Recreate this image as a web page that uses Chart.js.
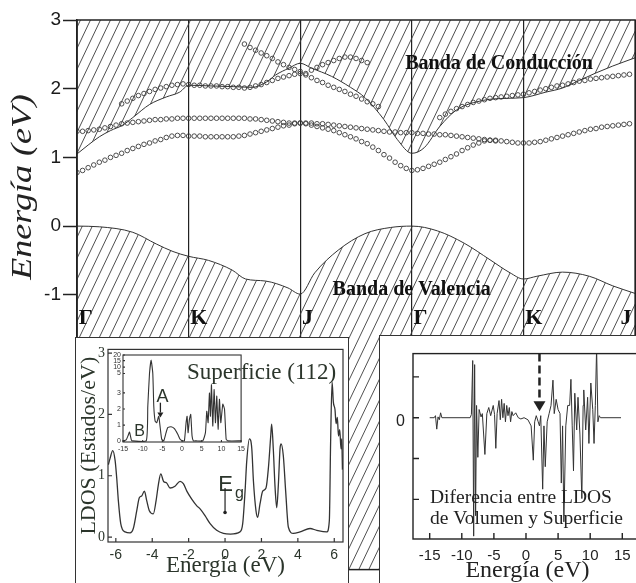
<!DOCTYPE html>
<html>
<head>
<meta charset="utf-8">
<script src="https://cdn.jsdelivr.net/npm/chart.js@4.4.1/dist/chart.umd.min.js"></script>
<style>
  html, body { margin: 0; padding: 0; background: #fff; overflow: hidden; }
  #fig { position: relative; width: 636px; height: 583px; overflow: hidden; }
  #fig canvas, #fig .box { position: absolute; }
  .box { background: #fff; border: 1.5px solid #333; box-sizing: border-box; }
</style>
</head>
<body>
<div id="fig">
  <canvas id="bands" width="640" height="583" style="left:0;top:0"></canvas>
  <div class="box" style="left:75px;top:337px;width:274px;height:260px"></div>
  <canvas id="ldos" width="272" height="245" style="left:76px;top:338px"></canvas>
  <canvas id="ldosFull" width="140" height="112" style="left:108px;top:345px"></canvas>
  <div class="box" style="left:379px;top:335px;width:270px;height:260px"></div>
  <canvas id="diff" width="262" height="247" style="left:380px;top:336px"></canvas>
</div>
<script>
// ============================================================
// Band structure along Γ-K-J-Γ-K-J + two LDOS insets
// ============================================================

// ---- Band diagram: k-path positions and labels ----
const symTicks = [0, 1, 2, 3, 4, 5];
const symLabels = ["Γ", "K", "J", "Γ", "K", "J"];
const symLabelShift = [0.015, 0.015, 0.015, 0.015, 0.015, -0.13]; // last J sits left of its (off-page) line
const mainYTicks = [-1, 0, 1, 2, 3];
const mainYLabels = ["-1", "0", "1", "2", "3"];

// Conduction band lower edge (eV)
const cbK = [0, 0.1, 0.2, 0.3, 0.41, 0.5, 0.65, 0.8, 0.92, 1.0, 1.2, 1.4, 1.57, 1.7, 1.78, 1.9, 2.0, 2.1, 2.28, 2.45, 2.58, 2.75, 2.87, 3.0, 3.11, 3.25, 3.4, 3.64, 3.85, 4.0, 4.2, 4.35, 4.5, 4.65, 4.8, 5.0];
const cbE = [1.05, 1.18, 1.3, 1.39, 1.47, 1.58, 1.77, 1.88, 1.95, 2.05, 2.04, 2.03, 2.02, 2.1, 2.2, 2.3, 2.37, 2.3, 2.18, 2.02, 1.87, 1.55, 1.26, 1.06, 1.14, 1.45, 1.69, 1.83, 1.86, 1.87, 1.95, 2.01, 2.12, 2.23, 2.33, 2.45];

// Valence band upper edge (eV)
const vbK = [0, 0.2, 0.5, 0.71, 0.86, 1.0, 1.18, 1.39, 1.51, 1.69, 1.89, 2.0, 2.13, 2.34, 2.58, 2.81, 3.0, 3.23, 3.47, 3.7, 3.88, 4.0, 4.12, 4.35, 4.59, 4.8, 5.0];
const vbE = [0, -0.01, -0.09, -0.26, -0.37, -0.44, -0.5, -0.64, -0.77, -0.8, -0.9, -0.99, -0.68, -0.35, -0.11, -0.02, 0, -0.07, -0.25, -0.49, -0.68, -0.77, -0.73, -0.67, -0.73, -0.87, -0.98];

// Surface states (open circles), sampled every K_STEP along the path
const K_STEP = 0.05;
const ssLowStart = 0;
const ssLow = [
  0.78, 0.81, 0.85, 0.89, 0.93, 0.96, 1.00, 1.03, 1.06, 1.10, 1.13, 1.16, 1.19, 1.21, 1.24, 1.26, 1.29, 1.31, 1.32, 1.32,
  1.31, 1.31, 1.31, 1.30, 1.30, 1.30, 1.30, 1.30, 1.30, 1.31, 1.32, 1.34, 1.36, 1.38, 1.40, 1.42, 1.44, 1.46, 1.47, 1.49,
  1.50, 1.49, 1.47, 1.45, 1.43, 1.41, 1.39, 1.36, 1.33, 1.30, 1.27, 1.23, 1.20, 1.15, 1.10, 1.04, 0.99, 0.93, 0.88, 0.84,
  0.81, 0.82, 0.84, 0.87, 0.90, 0.93, 0.97, 1.01, 1.05, 1.10, 1.14, 1.18, 1.21, 1.24, 1.25, 1.25, 1.24, 1.23, 1.22, 1.21,
  1.21, 1.21, 1.22, 1.23, 1.25, 1.27, 1.29, 1.31, 1.33, 1.35, 1.37, 1.39, 1.41, 1.42, 1.44, 1.45, 1.46, 1.47, 1.48, 1.49,
];
const ssMidStart = 0;
const ssMid = [
  1.38, 1.38, 1.39, 1.40, 1.41, 1.43, 1.45, 1.47, 1.49, 1.50, 1.51, 1.52, 1.53, 1.54, 1.55, 1.55, 1.56, 1.56, 1.57, 1.57,
  1.57, 1.57, 1.57, 1.57, 1.57, 1.57, 1.57, 1.57, 1.57, 1.57, 1.57, 1.56, 1.56, 1.55, 1.54, 1.53, 1.52, 1.51, 1.50, 1.50,
  1.50, 1.50, 1.50, 1.49, 1.49, 1.48, 1.47, 1.46, 1.45, 1.44, 1.43, 1.42, 1.41, 1.40, 1.39, 1.38, 1.37, 1.37, 1.36, 1.36,
  1.36, 1.35, 1.35, 1.34, 1.34, 1.33, 1.33, 1.32, 1.31, 1.30, 1.29, 1.28, 1.27, 1.26, 1.25, 1.24,
];
const ssHighStart = 0.4;
const ssHigh = [
  1.78, 1.82, 1.86, 1.90, 1.93, 1.96, 1.99, 2.01, 2.03, 2.05, 2.06, 2.07,
  2.06, 2.05, 2.05, 2.04, 2.04, 2.04, 2.03, 2.03, 2.02, 2.02, 2.01, 2.02, 2.04, 2.06, 2.09, 2.12, 2.15, 2.17, 2.19, 2.21,
  2.22, 2.20, 2.16, 2.12, 2.09, 2.05, 2.02, 1.99, 1.96, 1.92, 1.89, 1.85, 1.81, 1.78, 1.74,
];
const ssUpKJStart = 1.5;
const ssUpKJ = [2.65, 2.60, 2.56, 2.52, 2.48, 2.44, 2.39, 2.35, 2.31, 2.28, 2.25];
const ssUpJGStart = 2.05;
const ssUpJG = [2.22, 2.27, 2.31, 2.35, 2.38, 2.41, 2.44, 2.46, 2.46, 2.44, 2.41, 2.38];
const ssGKJStart = 3.25;
const ssGKJ = [
  1.58, 1.63, 1.67, 1.71, 1.74, 1.77, 1.80, 1.82, 1.84, 1.86, 1.87, 1.88, 1.89, 1.90, 1.91,
  1.92, 1.94, 1.96, 1.98, 2.00, 2.02, 2.04, 2.05, 2.07, 2.09, 2.11, 2.12, 2.14, 2.15, 2.16, 2.17, 2.18, 2.19, 2.20, 2.21,
];

// ---- Left inset: surface (112) LDOS ----
const ldosE = [-6.41, -6.32, -6.17, -6.04, -5.95, -5.86, -5.73, -5.49, -5.22, -5.04, -4.85, -4.71, -4.58, -4.43, -4.3, -4.16, -3.94, -3.79, -3.66, -3.53, -3.38, -3.2, -3.02, -2.75, -2.47, -2.29, -2.1, -1.83, -1.55, -1.37, -1.1, -0.82, -0.46, -0.09, 0.3, 0.82, 0.97, 1.1, 1.19, 1.34, 1.47, 1.56, 1.7, 1.79, 1.92, 2.07, 2.25, 2.38, 2.51, 2.56, 2.65, 2.75, 2.84, 2.93, 3.02, 3.08, 3.2, 3.33, 3.48, 3.75, 4.12, 4.67, 5.04, 5.59, 5.73, 5.8, 5.88, 5.95, 6.04, 6.1, 6.17, 6.23, 6.3, 6.37, 6.41, 6.45];
const ldosV = [1.18, 1.28, 1.41, 1.25, 0.96, 0.59, 0.22, 0.085, 0.07, 0.14, 0.43, 0.64, 0.67, 0.75, 0.59, 0.43, 0.38, 0.59, 0.86, 1.03, 0.91, 0.88, 0.8, 0.83, 0.91, 0.87, 0.75, 0.62, 0.51, 0.46, 0.35, 0.22, 0.11, 0.06, 0.05, 0.085, 0.22, 0.75, 1.23, 1.6, 1.44, 0.91, 0.43, 0.32, 0.54, 0.75, 0.8, 1.12, 1.65, 1.84, 1.44, 0.8, 0.48, 0.86, 1.44, 1.52, 1.33, 0.75, 0.16, 0.06, 0.085, 0.14, 0.11, 0.085, 0.27, 1.55, 2.53, 2.2, 2.08, 1.85, 1.95, 1.65, 1.75, 1.44, 1.6, 1.1];
const ldosXTicks = [-6, -4, -2, 0, 2, 4, 6];
const ldosXLabels = ["-6", "-4", "-2", "0", "2", "4", "6"];
const ldosYTicks = [0, 1, 2, 3];
const ldosYLabels = ["0", "1", "2", "3"];

// ---- Small inset: full-range LDOS (broken y axis above 3) ----
const fullE = [-15, -14.2, -13.7, -13.35, -12.9, -12.66, -9.1, -8.7, -8.27, -7.85, -7.43, -7.18, -6.84, -6.42, -5.92, -5.5, -5.16, -4.65, -4.06, -3.64, -2.79, -1.94, -1.09, -0.5, 0.18, 0.6, 1.03, 1.28, 1.53, 1.87, 2.2, 2.54, 2.88, 3.56, 5.26, 5.94, 6.28, 6.62, 6.96, 7.21, 7.47, 7.8, 8.14, 8.48, 8.82, 9.16, 9.5, 9.84, 10.35, 10.78, 11.2, 11.63, 15];
const fullV = [0.02, 0.08, 0.35, 0.57, 0.1, 0.02, 0.02, 2.17, 4.2, 5.03, 4.2, 2.17, 1.25, 1.15, 1.55, 0.74, 0.12, 0.02, 0.53, 0.84, 0.9, 0.78, 0.43, 0.12, 0.02, 0.02, 1.15, 1.55, 0.53, 1.35, 1.66, 0.33, 0.02, 0.02, 0.02, 0.53, 1.86, 1.15, 2.99, 1.55, 3.5, 0.94, 3.2, 1.15, 2.8, 0.74, 2.6, 1.15, 2.3, 2.0, 0.12, 0.02, 0.02];
const fullXTicks = [-15, -10, -5, 0, 5, 10, 15];
const fullXLabels = ["-15", "-10", "-5", "0", "5", "10", "15"];
const fullYTicks = [0, 1, 2, 3, 4.2, 4.6, 5.0, 5.35];
const fullYLabels = ["0", "1", "2", "3", "5", "10", "15", "20"];

// ---- Right inset: bulk minus surface LDOS ----
const diffE = [-15, -14.3, -14.1, -13.9, -13.7, -13.5, -13.3, -13.1, -8.7, -8.5, -8.3, -8.15, -8.0, -7.85, -7.7, -7.5, -7.3, -7.0, -6.8, -6.4, -6.1, -5.8, -5.5, -5.1, -4.9, -4.7, -4.5, -4.2, -4.0, -3.8, -3.6, -3.4, -3.2, -3.0, -2.8, -2.6, -2.4, -2.2, -2.0, -1.6, -1.2, -0.8, -0.3, 0.3, 0.8, 1.14, 1.35, 1.6, 1.9, 2.1, 2.3, 2.6, 2.8, 3.0, 3.3, 3.6, 3.9, 4.2, 4.4, 4.7, 5.0, 5.3, 5.5, 5.7, 5.9, 6.2, 6.5, 6.8, 7.0, 7.2, 7.4, 7.6, 7.9, 8.1, 8.4, 8.7, 8.9, 9.0, 9.3, 9.6, 9.8, 10.1, 10.4, 10.6, 10.8, 11.0, 11.2, 11.4, 11.6, 14.8];
const diffV = [0, 0, 0.05, -0.28, 0.02, -0.05, 0.12, 0, 0, 0.08, 1.4, -2.9, 1.3, -2.4, 0.3, -0.97, 0.2, 0.02, 0.1, -0.9, 0.1, 0.25, 0.05, 0.3, 0.08, -0.75, 0.1, 0.42, -0.05, 0.45, 0, 0.35, -0.1, 0.3, 0.05, 0.25, -0.1, 0.15, 0.05, 0.12, 0, -0.03, 0, -0.05, -0.2, -1.04, -0.1, 0.05, -0.1, -0.2, 0.05, -1.75, -0.2, -1.2, -0.1, 0.1, 0.3, 0.92, 0.1, 0.45, 0.2, 0.1, -1.6, -0.2, -2.55, -0.2, 0.3, 0.3, 0.94, -0.2, -1.3, 0.6, -0.3, 0.5, -0.4, -1.98, 0.3, 0.68, -0.3, 0.5, -0.63, 0.85, 0.2, -0.63, 0.3, 1.7, -0.1, 0.05, 0, 0];
const diffXTicks = [-15, -10, -5, 0, 5, 10, 15];
const diffXLabels = ["-15", "-10", "-5", "0", "5", "10", "15"];
const diffYTicks = [-2, -1, 0, 1];
const diffYLabels = ["", "", "0", ""];

// ============================================================
const SERIF = '"Liberation Serif", "Times New Roman", serif';
const SANS = '"Liberation Sans", Arial, sans-serif';
const INK = "#222";

Chart.defaults.font.family = SANS;
Chart.defaults.color = INK;

function zip(xs, ys) { return xs.map((x, i) => ({ x, y: ys[i] })); }
function branch(x0, ys) { return ys.map((y, i) => ({ x: x0 + i * K_STEP, y })); }
function fixedTicks(vals) { return s => { s.ticks = vals.map(v => ({ value: v })); }; }

// "///" hatching used for the band fills
function makeHatch() {
  const c = document.createElement("canvas");
  c.width = 10; c.height = 21;
  const g = c.getContext("2d");
  g.strokeStyle = "#3c3c3c";
  g.lineWidth = 0.9;
  for (const dx of [-10, 0, 10]) {
    g.beginPath(); g.moveTo(dx, 21); g.lineTo(dx + 10, 0); g.stroke();
  }
  return g.createPattern(c, "repeat");
}

// Box around the plot area + short inward tick marks
const framePlugin = {
  id: "frame",
  afterDatasetsDraw(chart, args, o) {
    const { ctx, chartArea: a, scales } = chart;
    ctx.save();
    ctx.strokeStyle = o.color || INK;
    ctx.lineWidth = o.width || 1;
    ctx.strokeRect(a.left, a.top, a.right - a.left, a.bottom - a.top);
    if (o.inner) {
      ctx.beginPath();
      for (const t of scales.x.ticks) {
        const px = scales.x.getPixelForValue(t.value);
        ctx.moveTo(px, a.bottom); ctx.lineTo(px, a.bottom - o.inner);
      }
      for (const t of scales.y.ticks) {
        const py = scales.y.getPixelForValue(t.value);
        ctx.moveTo(a.left, py); ctx.lineTo(a.left + o.inner, py);
      }
      ctx.stroke();
    }
    ctx.restore();
  },
};

// Free text placed in data coordinates
const textPlugin = {
  id: "texts",
  afterDatasetsDraw(chart, args, o) {
    const { ctx, scales: { x, y } } = chart;
    for (const t of o.items || []) {
      ctx.save();
      ctx.font = t.font;
      ctx.fillStyle = t.color || INK;
      ctx.textAlign = t.align || "left";
      ctx.textBaseline = t.baseline || "alphabetic";
      ctx.translate(x.getPixelForValue(t.x), y.getPixelForValue(t.y));
      if (t.rot) ctx.rotate(t.rot);
      ctx.scale(t.sx || 1, t.sy || 1);
      ctx.fillText(t.text, 0, 0);
      ctx.restore();
    }
  },
};

// Vertical arrows (Eg, A, gap marker)
const arrowPlugin = {
  id: "arrows",
  afterDatasetsDraw(chart, args, o) {
    const { ctx, scales: { x, y } } = chart;
    for (const a of o.items || []) {
      const px = x.getPixelForValue(a.x);
      const p1 = y.getPixelForValue(a.from);
      const p2 = y.getPixelForValue(a.to);
      const head = a.head || 0;
      ctx.save();
      ctx.strokeStyle = ctx.fillStyle = a.color || INK;
      ctx.lineWidth = a.width || 1.2;
      ctx.setLineDash(a.dash || []);
      ctx.beginPath(); ctx.moveTo(px, p1); ctx.lineTo(px, p2 - head); ctx.stroke();
      ctx.setLineDash([]);
      if (head) {
        ctx.beginPath();
        ctx.moveTo(px - head * 0.6, p2 - head);
        ctx.lineTo(px + head * 0.6, p2 - head);
        ctx.lineTo(px, p2);
        ctx.fill();
      }
      if (a.dot) { ctx.beginPath(); ctx.arc(px, p2, a.dot, 0, Math.PI * 2); ctx.fill(); }
      ctx.restore();
    }
  },
};

const common = {
  responsive: false,
  animation: false,
  devicePixelRatio: 1,
  events: [],
};
const noLegend = { legend: { display: false }, tooltip: { enabled: false } };
// inset axes: no grid, no outside tick marks (inner ticks come from the frame plugin)
const bareGrid = { display: false, drawTicks: false };

// ---- Band diagram ----
const hatch = makeHatch();
const circles = {
  showLine: false,
  pointRadius: 2.3,
  pointBorderWidth: 0.9,
  pointBorderColor: "#3a3a3a",
  pointBackgroundColor: "rgba(255,255,255,0)",
};

new Chart(document.getElementById("bands"), {
  type: "line",
  data: {
    datasets: [
      { data: zip(cbK, cbE), borderColor: "#333", borderWidth: 1, pointRadius: 0, fill: "end", backgroundColor: hatch, cubicInterpolationMode: "monotone" },
      { data: zip(vbK, vbE), borderColor: "#333", borderWidth: 1, pointRadius: 0, fill: "start", backgroundColor: hatch, cubicInterpolationMode: "monotone" },
      { data: branch(ssLowStart, ssLow), ...circles },
      { data: branch(ssMidStart, ssMid), ...circles },
      { data: branch(ssHighStart, ssHigh), ...circles },
      { data: branch(ssUpKJStart, ssUpKJ), ...circles },
      { data: branch(ssUpJGStart, ssUpJG), ...circles },
      { data: branch(ssGKJStart, ssGKJ), ...circles },
    ],
  },
  options: {
    ...common,
    layout: { padding: { top: 20, left: 0, right: 0, bottom: 0 } },
    scales: {
      x: {
        type: "linear", min: 0, max: 5,
        afterFit: s => { s.height = 0; },
        afterBuildTicks: fixedTicks(symTicks),
        ticks: { display: false },
        grid: { color: "#222", lineWidth: 1.2, drawTicks: false },
        border: { display: false },
      },
      y: {
        min: -5, max: 3,
        afterFit: s => { s.width = 77; },
        afterBuildTicks: fixedTicks(mainYTicks),
        ticks: { callback: (v, i) => mainYLabels[i], font: { size: 19 }, color: "#1a1a1a", padding: 2, autoSkip: false },
        grid: { drawOnChartArea: false, tickLength: 14, tickColor: "#222", tickWidth: 1.5 },
        border: { color: "#222", width: 1.5 },
      },
    },
    plugins: {
      ...noLegend,
      frame: { width: 1.5 },
      texts: {
        items: [
          { text: "Energía (eV)", x: -0.48, y: 0.57, font: "italic 30px " + SERIF, align: "center", baseline: "middle", rot: -Math.PI / 2, sx: 1.2 },
          { text: "Banda de Conducción", x: 2.94, y: 2.29, font: "bold 20px " + SERIF, color: "#111" },
          { text: "Banda de Valencia", x: 2.29, y: -1.01, font: "bold 20px " + SERIF, color: "#111" },
          ...symTicks.map((v, i) => ({ text: symLabels[i], x: v + symLabelShift[i], y: -1.42, font: "bold 22px " + SERIF, color: "#111" })),
        ],
      },
    },
  },
  plugins: [framePlugin, textPlugin],
});

// ---- Left inset: surface LDOS ----
const GREEN_INK = "#2b352b";
new Chart(document.getElementById("ldos"), {
  type: "line",
  data: {
    datasets: [
      { data: zip(ldosE, ldosV), borderColor: "#333", borderWidth: 1.3, pointRadius: 0, cubicInterpolationMode: "monotone" },
    ],
  },
  options: {
    ...common,
    layout: { padding: { top: 7, right: 5, left: 0, bottom: 0 } },
    scales: {
      x: {
        type: "linear", min: -6.43, max: 6.48,
        afterFit: s => { s.height = 41; },
        afterBuildTicks: fixedTicks(ldosXTicks),
        ticks: { callback: (v, i) => ldosXLabels[i], font: { size: 14 }, color: GREEN_INK, padding: 5, autoSkip: false, maxRotation: 0 },
        grid: bareGrid,
        border: { display: false },
        title: { display: true, text: "Energía (eV)", font: { family: SERIF, size: 23 }, color: GREEN_INK, padding: { top: 0, bottom: 3 } },
      },
      y: {
        min: -0.08, max: 3.06,
        afterFit: s => { s.width = 32; },
        afterBuildTicks: fixedTicks(ldosYTicks),
        ticks: { callback: (v, i) => ldosYLabels[i], font: { family: SERIF, size: 14 }, color: GREEN_INK, padding: 3, autoSkip: false },
        grid: bareGrid,
        border: { display: false },
        title: { display: true, text: "LDOS (Estados/eV)", font: { family: SERIF, size: 22 }, color: GREEN_INK, padding: 0 },
      },
    },
    plugins: {
      ...noLegend,
      frame: { width: 1.2, inner: 4, color: "#333" },
      texts: {
        items: [
          { text: "Superficie (112)", x: -2.09, y: 2.58, font: "23px " + SERIF, color: GREEN_INK },
          { text: "E", x: -0.38, y: 0.75, font: "22px " + SANS, color: GREEN_INK },
          { text: "g", x: 0.55, y: 0.64, font: "16px " + SANS, color: GREEN_INK },
        ],
      },
      arrows: { items: [{ x: 0, from: 0.8, to: 0.4, width: 1.2, dot: 1.8 }] },
    },
  },
  plugins: [framePlugin, textPlugin, arrowPlugin],
});

// ---- Small inset inside the left one ----
new Chart(document.getElementById("ldosFull"), {
  type: "line",
  data: {
    datasets: [
      { data: zip(fullE, fullV), borderColor: "#333", borderWidth: 1.1, pointRadius: 0, tension: 0.15 },
    ],
  },
  options: {
    ...common,
    layout: { padding: { top: 10, right: 5, left: 0, bottom: 0 } },
    scales: {
      x: {
        type: "linear", min: -15, max: 15,
        afterFit: s => { s.height = 15; },
        afterBuildTicks: fixedTicks(fullXTicks),
        ticks: { callback: (v, i) => fullXLabels[i], font: { size: 7 }, color: "#333", padding: 3, autoSkip: false, maxRotation: 0 },
        grid: bareGrid,
        border: { display: false },
      },
      y: {
        min: -0.05, max: 5.35,
        afterFit: s => { s.width = 15; },
        afterBuildTicks: fixedTicks(fullYTicks),
        ticks: { callback: (v, i) => fullYLabels[i], font: { size: 7 }, color: "#333", padding: 2, autoSkip: false },
        grid: bareGrid,
        border: { display: false },
      },
    },
    plugins: {
      ...noLegend,
      frame: { width: 1.1, inner: 2, color: "#333" },
      texts: {
        items: [
          { text: "A", x: -4.95, y: 2.45, font: "18px " + SANS, align: "center", color: GREEN_INK },
          { text: "B", x: -10.8, y: 0.31, font: "16px " + SANS, align: "center", color: GREEN_INK },
        ],
      },
      arrows: { items: [{ x: -5.5, from: 2.39, to: 1.47, width: 1.3, head: 5 }] },
    },
  },
  plugins: [framePlugin, textPlugin, arrowPlugin],
});

// ---- Right inset: LDOS difference ----
new Chart(document.getElementById("diff"), {
  type: "line",
  data: {
    datasets: [
      { data: zip(diffE, diffV), borderColor: "#333", borderWidth: 1, pointRadius: 0, tension: 0 },
    ],
  },
  options: {
    ...common,
    layout: { padding: { top: 1, right: 0, left: 0, bottom: 0 } },
    scales: {
      x: {
        type: "linear", min: -17.6, max: 18.07,
        afterFit: s => { s.height = 44; },
        afterBuildTicks: fixedTicks(diffXTicks),
        ticks: { callback: (v, i) => diffXLabels[i], font: { size: 15 }, color: "#222", padding: 8, autoSkip: false, maxRotation: 0 },
        grid: bareGrid,
        border: { display: false },
        title: { display: true, text: "Energía (eV)", font: { family: SERIF, size: 24 }, color: "#222", padding: { top: 0, bottom: -2 } },
      },
      y: {
        min: -2.97, max: 1.57,
        afterFit: s => { s.width = 33; },
        afterBuildTicks: fixedTicks(diffYTicks),
        ticks: { callback: (v, i) => diffYLabels[i], font: { size: 16 }, color: "#222", padding: 8, labelOffset: 4, autoSkip: false },
        grid: bareGrid,
        border: { display: false },
      },
    },
    plugins: {
      ...noLegend,
      frame: { width: 1.4, inner: 6, color: "#222" },
      texts: {
        items: [
          { text: "Diferencia entre LDOS", x: -14.95, y: -2.09, font: "19.5px " + SERIF },
          { text: "de Volumen y Superficie", x: -14.95, y: -2.61, font: "19.5px " + SERIF },
        ],
      },
      arrows: { items: [{ x: 2.1, from: 1.57, to: 0.16, width: 2.5, dash: [8, 4], head: 10 }] },
    },
  },
  plugins: [framePlugin, textPlugin, arrowPlugin],
});
</script>
</body>
</html>
